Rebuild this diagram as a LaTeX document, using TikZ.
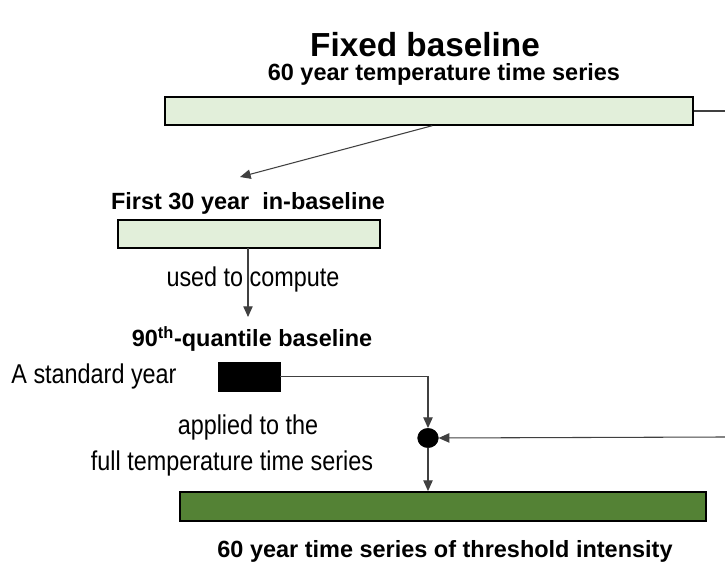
\documentclass[tikz,border=0pt]{standalone}
\usepackage{fontspec}
\setmainfont{Liberation Sans}
\newfontfamily\regfont{Liberation Sans}[FakeStretch=0.86]
\usetikzlibrary{arrows.meta,calc,shapes.geometric}
\definecolor{lightgreen}{HTML}{E2EFDA}
\definecolor{darkgreen}{HTML}{548235}
\definecolor{linegray}{HTML}{404040}
\tikzset{
  bar/.style={draw=black, line width=1.1pt, minimum height=21pt, inner sep=0pt},
  boldlabel/.style={font=\fontsize{17.6pt}{20pt}\selectfont\bfseries, inner sep=0pt},
  reglabel/.style={font=\regfont\fontsize{20.4pt}{23pt}\selectfont, inner sep=0pt},
  conn/.style={draw=linegray, line width=0.8pt},
  arr/.style={conn, -{Triangle[length=8pt, width=7pt]}}
}
\begin{document}
\begin{tikzpicture}[x=0.75pt, y=-0.75pt]
\useasboundingbox (0,0) rectangle (725,570);
% title
\node[font=\fontsize{25pt}{30pt}\selectfont\bfseries, inner sep=0pt] (title) at (425,45) {Fixed baseline};
\node[boldlabel] (sub) at (444,74) {60 year temperature time series};
% top bar
\node[bar, fill=lightgreen, minimum width=396pt] (top) at (429,111) {};
\coordinate (topR) at (725,111);
\draw[conn] (top.east) -- (topR);
% first 30 year
\node[boldlabel] (firstlbl) at (248,203) {First 30 year \ in-baseline};
\node[bar, fill=lightgreen, minimum width=196.5pt] (first) at (249,234) {};
\coordinate (topS) at ($(top.south west)!0.506!(top.south east)$);
\coordinate (arrEnd) at (240,177);
\draw[arr] (topS) -- (arrEnd);
% used to compute
\coordinate (q90) at (248,317);
\coordinate (firstS) at (248,248);
\draw[arr] (firstS) -- (q90);
\node[reglabel] (used) at (253,279) {used to compute};
\node[boldlabel] (qlbl) at (252,339) {90\textsuperscript{th}-quantile baseline};
% standard year
\node[reglabel] (std) at (94,376) {A standard year};
\node[draw=black, fill=black, minimum width=46.5pt, minimum height=22pt, inner sep=0pt] (blk) at (249,376.5) {};
% dot
\node[ellipse, fill=black, draw=black, minimum width=15.5pt, minimum height=14.5pt, inner sep=0pt] (dot) at (428,438) {};
\draw[arr] (blk.east) -| (dot.north);
\coordinate (rightIn) at (725,437);
\draw[arr] (rightIn) -- (dot.east);
% applied
\node[reglabel] (app1) at (248,427) {applied to the};
\node[reglabel] (app2) at (232,463) {full temperature time series};
% green bar
\node[bar, fill=darkgreen, minimum width=394.5pt, minimum height=22pt] (green) at (443,506.5) {};
\draw[arr] (dot.south) -- (dot.south |- green.north);
\node[boldlabel] (bot) at (445,551) {60 year time series of threshold intensity};
\end{tikzpicture}
\end{document}
